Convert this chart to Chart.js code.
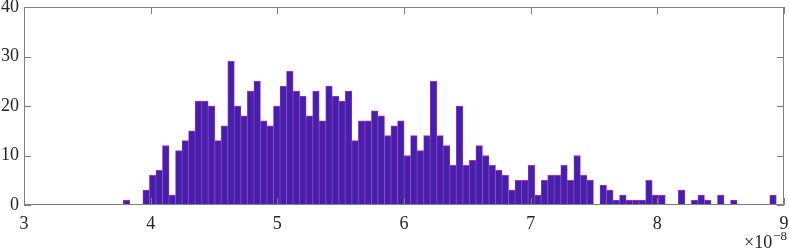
<!DOCTYPE html>
<html>
<head>
<meta charset="utf-8">
<script src="https://cdn.jsdelivr.net/npm/chart.js@4"></script>
<style>
  html, body { margin: 0; padding: 0; background: #fff; overflow: hidden; }
  #chart-container { width: 789px; height: 251px; }
</style>
</head>
<body>
<div id="chart-container"><canvas id="hist-chart" width="789" height="251"></canvas></div>
<script>
// Histograma: 100 intervalos, eje x en unidades de 1e-8
const binStart = 3.784;
const binWidth = 0.05155;
const counts = [
  1, 0, 0, 3, 6, 7, 12, 2, 11, 13,
  15, 21, 21, 20, 13, 16, 29, 20, 18, 23,
  25, 17, 16, 20, 24, 27, 23, 22, 18, 23,
  17, 24, 22, 21, 23, 13, 17, 17, 19, 18,
  14, 16, 17, 10, 14, 11, 14, 25, 14, 12,
  8, 20, 8, 9, 12, 10, 8, 7, 6, 3,
  5, 5, 8, 2, 5, 6, 6, 8, 5, 10,
  6, 5, 0, 4, 3, 1, 2, 1, 1, 1,
  5, 2, 2, 0, 0, 3, 0, 1, 2, 1,
  0, 2, 0, 1, 0, 0, 0, 0, 0, 2
];
const xTicks = [3, 4, 5, 6, 7, 8, 9];
const yTicks = [0, 10, 20, 30, 40];
const xExponent = '−8';

const faceColor = '#4123a8';
const edgeColor = '#b428d8';
const axisColor = '#808080';
const textColor = '#262626';
const fontFamily = '"Liberation Serif", "DejaVu Serif", serif';

// Construir los puntos del histograma
const barData = counts.map((c, i) => ({ x: binStart + (i + 0.5) * binWidth, y: c }));
const baseLine = [
  { x: binStart, y: 0 },
  { x: binStart + counts.length * binWidth, y: 0 }
];

// Caja y marcas hacia dentro, estilo MATLAB
const boxPlugin = {
  id: 'boxPlugin',
  afterDraw(chart) {
    const { ctx, chartArea: a, scales } = chart;
    ctx.save();
    ctx.strokeStyle = axisColor;
    ctx.lineWidth = 1;
    ctx.beginPath();
    ctx.rect(Math.round(a.left) + 0.5, Math.round(a.top) + 0.5,
      Math.round(a.right - a.left) - 1, Math.round(a.bottom - a.top) - 1);
    const t = 7;
    xTicks.forEach(v => {
      const px = Math.round(scales.x.getPixelForValue(v)) + 0.5;
      ctx.moveTo(px, a.bottom); ctx.lineTo(px, a.bottom - t);
      ctx.moveTo(px, a.top); ctx.lineTo(px, a.top + t);
    });
    yTicks.forEach(v => {
      const py = Math.round(scales.y.getPixelForValue(v)) + 0.5;
      ctx.moveTo(a.left, py); ctx.lineTo(a.left + t, py);
      ctx.moveTo(a.right, py); ctx.lineTo(a.right - t, py);
    });
    ctx.stroke();

    // Multiplicador del eje x
    ctx.fillStyle = textColor;
    ctx.textBaseline = 'alphabetic';
    ctx.textAlign = 'left';
    ctx.font = '18px ' + fontFamily;
    const base = '×10';
    const w = ctx.measureText(base).width;
    ctx.font = '13px ' + fontFamily;
    const we = ctx.measureText(xExponent).width;
    const x0 = a.right + 2 - w - we;
    ctx.font = '18px ' + fontFamily;
    ctx.fillText(base, x0, 248);
    ctx.font = '13px ' + fontFamily;
    ctx.fillText(xExponent, x0 + w + 1, 240);
    ctx.restore();
  }
};

const ctx = document.getElementById('hist-chart').getContext('2d');
new Chart(ctx, {
  type: 'bar',
  data: {
    datasets: [{
      type: 'line',
      data: baseLine,
      borderColor: edgeColor,
      borderWidth: 1,
      pointRadius: 0,
      order: 0
    }, {
      data: barData,
      backgroundColor: faceColor,
      borderColor: edgeColor,
      borderWidth: { top: 1, left: 0.75, right: 0.75, bottom: 0 },
      borderSkipped: false,
      barPercentage: 1,
      categoryPercentage: 1,
      grouped: false,
      order: 1
    }]
  },
  options: {
    responsive: false,
    animation: false,
    devicePixelRatio: 1,
    layout: { padding: { top: 7, right: 5, left: 0, bottom: 0 } },
    plugins: { legend: { display: false }, tooltip: { enabled: false } },
    scales: {
      x: {
        type: 'linear',
        min: 3, max: 9,
        offset: false,
        afterBuildTicks: s => { s.ticks = xTicks.map(v => ({ value: v })); },
        afterFit: s => { s.height = 46; s.paddingLeft = 0; s.paddingRight = 0; },
        grid: { display: false, drawTicks: false, offset: false },
        border: { display: false },
        ticks: {
          color: textColor, padding: 8, maxRotation: 0, autoSkip: false,
          font: { family: fontFamily, size: 18 }
        }
      },
      y: {
        min: 0, max: 40,
        afterBuildTicks: s => { s.ticks = yTicks.map(v => ({ value: v })); },
        afterFit: s => { s.width = 24; s.paddingTop = 0; s.paddingBottom = 0; },
        grid: { display: false, drawTicks: false },
        border: { display: false },
        ticks: {
          color: textColor, padding: 5, autoSkip: false,
          font: { family: fontFamily, size: 18 }
        }
      }
    }
  },
  plugins: [boxPlugin]
});
</script>
</body>
</html>
